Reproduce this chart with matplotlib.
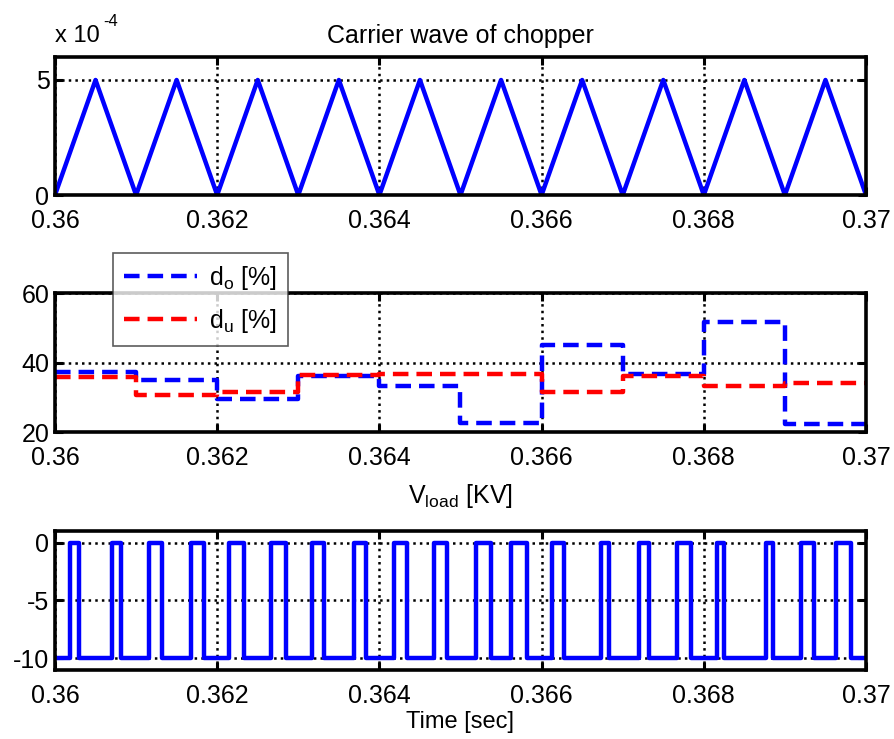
import matplotlib
matplotlib.use("Agg")
import matplotlib.pyplot as plt
from matplotlib.lines import Line2D

plt.rcParams['font.family'] = ['Liberation Sans', 'DejaVu Sans']
plt.rcParams['mathtext.fontset'] = 'custom'
plt.rcParams['mathtext.rm'] = 'Liberation Sans'
plt.rcParams['axes.unicode_minus'] = False

# carrier wave vertices (values in units of 1e-4)
carrier_t = [0.3600, 0.3605, 0.3610, 0.3615, 0.3620, 0.3625, 0.3630, 0.3635,
             0.3640, 0.3645, 0.3650, 0.3655, 0.3660, 0.3665, 0.3670, 0.3675,
             0.3680, 0.3685, 0.3690, 0.3695, 0.3700]
carrier_v = [0, 5, 0, 5, 0, 5, 0, 5, 0, 5, 0, 5, 0, 5, 0, 5, 0, 5, 0, 5, 0]

# duty cycles, one value per carrier period
duty_t = [0.360, 0.361, 0.362, 0.363, 0.364, 0.365, 0.366, 0.367, 0.368, 0.369, 0.370]
d_o = [37.3, 34.9, 29.4, 36.0, 33.3, 22.7, 45.0, 36.7, 51.7, 22.2]
d_u = [35.9, 30.6, 31.5, 36.4, 36.6, 36.6, 31.5, 36.2, 33.3, 34.0]

# load voltage: switch-on / switch-off times of the 0 kV pulses (else -10 kV)
pulse_on = [0.36018, 0.36070, 0.36116, 0.36168, 0.36215, 0.36266, 0.36317,
            0.36369, 0.36418, 0.36467, 0.36519, 0.36562, 0.36613, 0.36673,
            0.36720, 0.36767, 0.36816, 0.36877, 0.36920, 0.36963]
pulse_off = [0.36030, 0.36081, 0.36132, 0.36184, 0.36233, 0.36285, 0.36332,
             0.36384, 0.36434, 0.36483, 0.36538, 0.36582, 0.36628, 0.36683,
             0.36732, 0.36784, 0.36825, 0.36885, 0.36936, 0.36982]
v_high = 0
v_low = -10

xticks = [0.360, 0.362, 0.364, 0.366, 0.368, 0.370]
xlabels = ['0.36', '0.362', '0.364', '0.366', '0.368', '0.37']

FS = 18
BLUE = (0, 0, 1)
RED = (1, 0, 0)

fig = plt.figure(figsize=(8.94, 7.39), dpi=100)
ax1 = fig.add_axes([0.0615, 0.7361, 0.9072, 0.1868])
ax2 = fig.add_axes([0.0615, 0.4154, 0.9072, 0.1881])
ax3 = fig.add_axes([0.0615, 0.0934, 0.9072, 0.1881])


def style(ax, yticks):
    ax.set_xlim(0.36, 0.37)
    ax.set_xticks(xticks)
    ax.set_xticklabels(xlabels)
    ax.set_yticks(yticks)
    ax.grid(True, color='black', linestyle=':', linewidth=1.8)
    ax.tick_params(direction='in', length=6, width=2.2, top=True, right=True,
                   labelsize=FS)
    ax.tick_params(axis='x', pad=10)
    ax.tick_params(axis='y', pad=4)
    for s in ax.spines.values():
        s.set_linewidth(2.6)
    ax.set_axisbelow(True)


# carrier
ax1.plot(carrier_t, carrier_v, color=BLUE, linewidth=3.2)
ax1.set_ylim(0, 6)
style(ax1, [0, 5])
ax1.set_title('Carrier wave of chopper', fontsize=FS, pad=10)
ax1.text(0.0, 1.07, 'x 10', transform=ax1.transAxes, fontsize=FS - 1,
         ha='left', va='bottom')
ax1.text(0.060, 1.20, '-4', transform=ax1.transAxes, fontsize=FS - 6,
         ha='left', va='bottom')

# duty cycles
ax2.plot(duty_t, d_o + [d_o[-1]], color=BLUE, linewidth=3.2, drawstyle='steps-post',
         dashes=(3.5, 1.8))
ax2.plot(duty_t, d_u + [d_u[-1]], color=RED, linewidth=3.2, drawstyle='steps-post',
         dashes=(3.5, 1.8))
ax2.set_ylim(20, 60)
style(ax2, [20, 40, 60])
handles = [Line2D([], [], color=BLUE, linewidth=3.2, dashes=(3.5, 1.8)),
           Line2D([], [], color=RED, linewidth=3.2, dashes=(3.5, 1.8))]
leg = ax2.legend(handles, [r'd$_\mathrm{o}$ [%]', r'd$_\mathrm{u}$ [%]'],
                 loc='upper left', bbox_to_anchor=(0.0715, 1.29), fontsize=FS,
                 frameon=True, fancybox=False, handlelength=2.9, borderpad=0.45,
                 labelspacing=0.6, handletextpad=0.5, borderaxespad=0)
leg.get_frame().set_edgecolor('#333333')
leg.get_frame().set_linewidth(1.2)
leg.set_zorder(10)

# load voltage
vt = [0.360]
vv = [v_low]
for on, off in zip(pulse_on, pulse_off):
    vt += [on, on, off, off]
    vv += [v_low, v_high, v_high, v_low]
vt.append(0.370)
vv.append(v_low)
ax3.plot(vt, vv, color=BLUE, linewidth=3.2)
ax3.set_ylim(-11, 1)
style(ax3, [-10, -5, 0])
ax3.set_title(r'V$_\mathrm{load}$ [KV]', fontsize=FS, pad=20)
ax3.set_xlabel('Time [sec]', fontsize=FS - 1, labelpad=2)

fig.savefig('out.png', dpi=100)
